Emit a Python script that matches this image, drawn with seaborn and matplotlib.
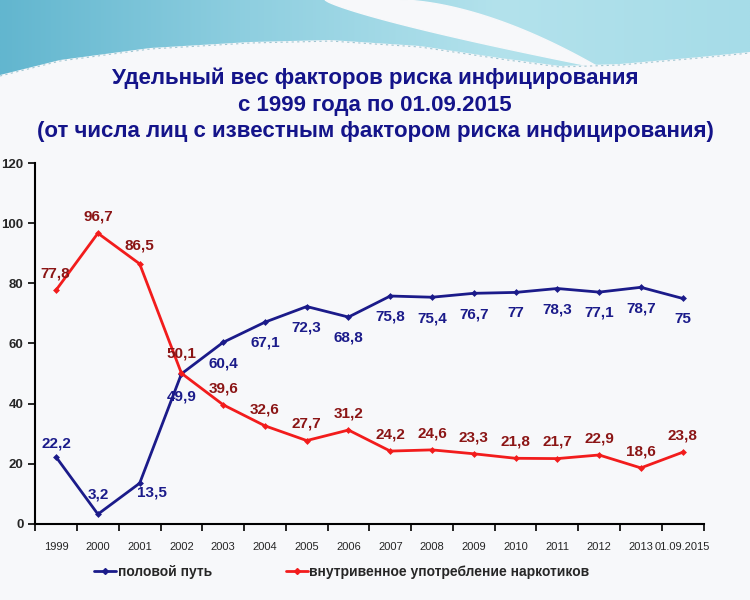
import matplotlib
matplotlib.use("Agg")
import matplotlib.pyplot as plt
import numpy as np
import pandas as pd
import seaborn as sns
from matplotlib.ticker import FixedLocator
from matplotlib.colors import LinearSegmentedColormap

years = ["1999", "2000", "2001", "2002", "2003", "2004", "2005", "2006",
         "2007", "2008", "2009", "2010", "2011", "2012", "2013", "01.09.2015"]
sexual = [22.2, 3.2, 13.5, 49.9, 60.4, 67.1, 72.3, 68.8,
          75.8, 75.4, 76.7, 77, 78.3, 77.1, 78.7, 75]
drugs = [77.8, 96.7, 86.5, 50.1, 39.6, 32.6, 27.7, 31.2,
         24.2, 24.6, 23.3, 21.8, 21.7, 22.9, 18.6, 23.8]
series_names = ["половой путь", "внутривенное употребление наркотиков"]

sns.set_style("white")
plt.rcParams['font.family'] = ['Liberation Sans', 'DejaVu Sans']

df = pd.DataFrame({
    "year": years * 2,
    "value": sexual + drugs,
    "series": [series_names[0]] * len(years) + [series_names[1]] * len(years),
})

line_cols = {series_names[0]: "#1b1b8a", series_names[1]: "#f21c1c"}
text_cols = {series_names[0]: "#1b1b8a", series_names[1]: "#8b1515"}
title_col = "#14148a"
page_col = "#f7f8fa"

fig = plt.figure(figsize=(7.5, 6), dpi=100)
fig.patch.set_facecolor(page_col)

# decorative wave at the top of the slide
bg = fig.add_axes([0, 0, 1, 1], zorder=-5)
bg.set_xlim(0, 750)
bg.set_ylim(600, 0)
bg.axis("off")
xs = np.linspace(0, 750, 300)
edge_x = [0, 60, 150, 250, 330, 420, 500, 560, 620, 700, 750]
edge_y = [75, 60, 48, 42, 40, 46, 58, 66, 64, 57, 52]
edge = np.interp(xs, edge_x, edge_y)
poly = bg.fill_between(xs, 0, edge, color="none")
grad = LinearSegmentedColormap.from_list("wave", ["#62b6cf", "#8fcfe0", "#b3e2ec", "#a6dce8"])
img = bg.imshow(np.linspace(0, 1, 256)[None, :] + np.zeros((20, 1)), cmap=grad,
                extent=(0, 750, 80, 0), aspect="auto", zorder=1)
img.set_clip_path(poly.get_paths()[0], transform=bg.transData)
t = np.linspace(0, 1, 80)
sw_x = np.concatenate([325 + 275 * t, (400 + 200 * t)[::-1]])
sw_y = np.concatenate([68 * t ** 0.8, (68 * t ** 1.7)[::-1]])
bg.fill(sw_x, sw_y, color=page_col, zorder=2)
bg.plot(xs, edge + 1, color="#6aa6b8", lw=0.8, ls=(0, (2, 3)), alpha=0.6, zorder=3)
bg.set_xlim(0, 750)
bg.set_ylim(600, 0)

ax = fig.add_axes([0.047, 0.127, 0.891, 0.601])
ax.set_facecolor("none")
sns.lineplot(data=df, x="year", y="value", hue="series", palette=line_cols,
             marker="D", markersize=3.5, markeredgewidth=0, linewidth=2,
             sort=False, legend=False, ax=ax)

ax.set_xlim(-0.5, len(years) - 0.5)
ax.set_ylim(0, 120)
ax.set_yticks(range(0, 121, 20))
ax.set_xticks(range(len(years)))
ax.set_xticklabels(years, fontsize=8)
ax.xaxis.set_minor_locator(FixedLocator(np.arange(-0.5, len(years), 1)))
ax.tick_params(axis="x", which="major", length=0, pad=13)
ax.tick_params(axis="x", which="minor", length=5, width=1.2, color="black", direction="out", bottom=True)
ax.tick_params(axis="y", length=5, width=1.2, color="black", direction="out", left=True, labelsize=9.5)
for lab in ax.get_yticklabels():
    lab.set_fontweight("bold")
ax.set_xlabel("")
ax.set_ylabel("")
for s in ["top", "right"]:
    ax.spines[s].set_visible(False)
for s in ["left", "bottom"]:
    ax.spines[s].set_color("black")
    ax.spines[s].set_linewidth(1.5)

# data labels (offsets in points)
blue_off = [(0, 10), (0, 14), (9, -7), (0, -16), (0, -15), (0, -15), (0, -15), (0, -15),
            (0, -15), (0, -15), (0, -15), (0, -15), (0, -15), (0, -15), (0, -15), (0, -15)]
red_off = [(-1, 12), (0, 12), (0, 13), (0, 14), (0, 12), (0, 12), (0, 12), (0, 12),
           (0, 12), (0, 12), (0, 12), (0, 12), (0, 12), (0, 12), (0, 12), (0, 12)]
for vals, offs, name in [(sexual, blue_off, series_names[0]), (drugs, red_off, series_names[1])]:
    for i, v in enumerate(vals):
        txt = f"{v:g}".replace(".", ",")
        ax.annotate(txt, (i, v), xytext=offs[i], textcoords="offset points",
                    ha="center", va="center", fontsize=11, fontweight="bold",
                    color=text_cols[name])

fig.text(0.5, 0.825, "Удельный вес факторов риска инфицирования\nс 1999 года по 01.09.2015\n(от числа лиц с известным фактором риска инфицирования)",
         ha="center", va="center", fontsize=16, fontweight="bold", color=title_col, linespacing=1.35)

handles = [plt.Line2D([], [], color=line_cols[n], marker="D", markersize=3, linewidth=2) for n in series_names]
fig.legend(handles, series_names, loc="center left", bbox_to_anchor=(0.109, 0.047), ncol=2,
           frameon=False, prop={"weight": "bold", "size": 10},
           handlelength=1.6, handletextpad=0.1, columnspacing=5.3)

fig.savefig("out.png", dpi=100, facecolor=fig.get_facecolor())
